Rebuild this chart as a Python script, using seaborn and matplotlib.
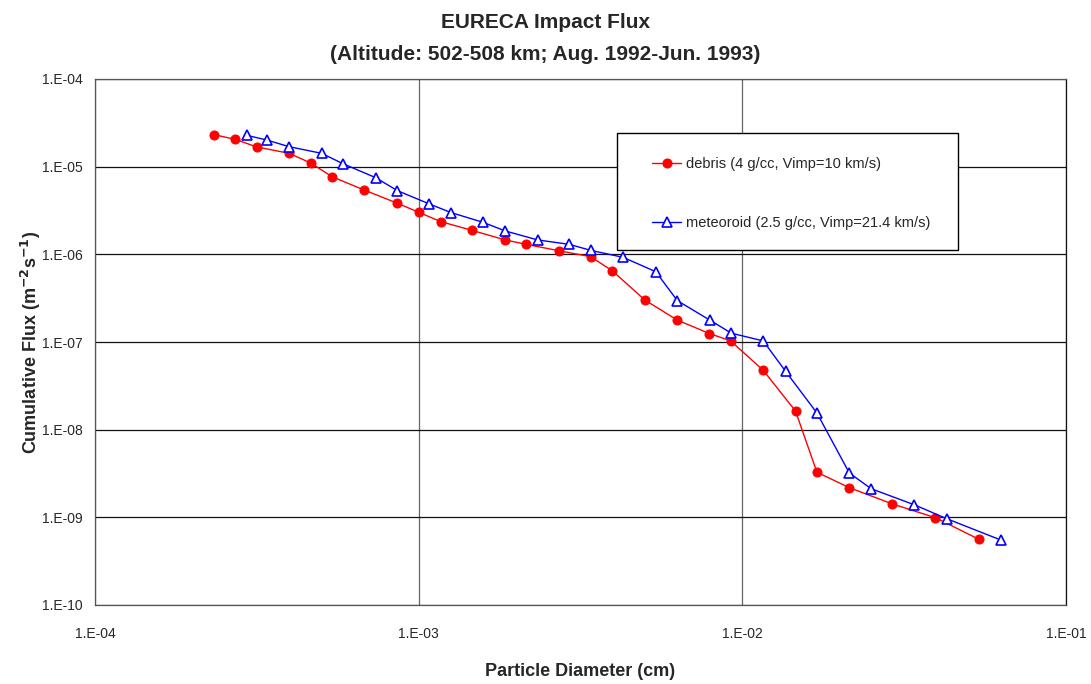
import numpy as np
import pandas as pd
import matplotlib
matplotlib.use('Agg')
import matplotlib.pyplot as plt
import matplotlib.ticker as mticker
from matplotlib.patches import Rectangle
import seaborn as sns

# Values
debris_diam = [2.33e-4, 2.71e-4, 3.16e-4, 3.98e-4, 4.64e-4, 5.40e-4, 6.78e-4, 8.56e-4,
               1.00e-3, 1.17e-3, 1.46e-3, 1.85e-3, 2.15e-3, 2.71e-3, 3.40e-3, 3.97e-3,
               5.00e-3, 6.29e-3, 7.91e-3, 9.20e-3, 1.16e-2, 1.46e-2, 1.70e-2, 2.14e-2,
               2.91e-2, 3.95e-2, 5.38e-2]
debris_flux = [2.32e-5, 2.05e-5, 1.68e-5, 1.42e-5, 1.10e-5, 7.68e-6, 5.42e-6, 3.85e-6,
               3.02e-6, 2.36e-6, 1.88e-6, 1.46e-6, 1.30e-6, 1.10e-6, 9.40e-7, 6.46e-7,
               3.01e-7, 1.78e-7, 1.25e-7, 1.03e-7, 4.76e-8, 1.63e-8, 3.27e-9, 2.18e-9,
               1.42e-9, 9.90e-10, 5.62e-10]

meteor_diam = [2.94e-4, 3.40e-4, 3.98e-4, 5.01e-4, 5.84e-4, 7.37e-4, 8.60e-4, 1.08e-3,
               1.26e-3, 1.58e-3, 1.85e-3, 2.33e-3, 2.92e-3, 3.40e-3, 4.28e-3, 5.40e-3,
               6.30e-3, 7.93e-3, 9.25e-3, 1.16e-2, 1.36e-2, 1.70e-2, 2.14e-2, 2.50e-2,
               3.40e-2, 4.28e-2, 6.29e-2]
meteor_flux = [2.28e-5, 2.01e-5, 1.69e-5, 1.42e-5, 1.08e-5, 7.48e-6, 5.32e-6, 3.75e-6,
               2.99e-6, 2.32e-6, 1.85e-6, 1.46e-6, 1.30e-6, 1.11e-6, 9.25e-7, 6.34e-7,
               2.96e-7, 1.78e-7, 1.26e-7, 1.03e-7, 4.63e-8, 1.55e-8, 3.21e-9, 2.12e-9,
               1.39e-9, 9.65e-10, 5.51e-10]

debris_label = 'debris (4 g/cc, Vimp=10 km/s)'
meteor_label = 'meteoroid (2.5 g/cc, Vimp=21.4 km/s)'

sns.set_style('white')
plt.rcParams['font.family'] = ['Liberation Sans', 'DejaVu Sans']

fig = plt.figure(figsize=(10.91, 6.84), dpi=100)
ax = fig.add_axes([95 / 1091, 1 - 605 / 684, 971 / 1091, 526 / 684])

sns.lineplot(x=debris_diam, y=debris_flux, ax=ax, color='red', marker='o',
             markersize=6.5, markeredgecolor='red', linewidth=1,
             estimator=None, label=debris_label)
sns.lineplot(x=meteor_diam, y=meteor_flux, ax=ax, color='blue', marker='^',
             markersize=7, markerfacecolor='white', markeredgecolor='blue',
             markeredgewidth=1.2, linewidth=1, estimator=None, label=meteor_label)

ax.set_xscale('log')
ax.set_yscale('log')
ax.set_xlim(1e-4, 1e-1)
ax.set_ylim(1e-10, 1e-4)

fmt = mticker.FuncFormatter(lambda v, p: '1.E%+03d' % int(round(np.log10(v))))
ax.xaxis.set_major_locator(mticker.LogLocator(base=10, numticks=10))
ax.yaxis.set_major_locator(mticker.LogLocator(base=10, numticks=10))
ax.xaxis.set_minor_locator(mticker.NullLocator())
ax.yaxis.set_minor_locator(mticker.NullLocator())
ax.xaxis.set_major_formatter(fmt)
ax.yaxis.set_major_formatter(fmt)
ax.tick_params(axis='both', which='major', direction='out', length=4, width=0.8,
               color='#333333', labelsize=10)
ax.tick_params(axis='x', pad=12)
ax.tick_params(axis='y', pad=5)

ax.grid(True, axis='y', which='major', color='#111111', linewidth=0.9)
ax.grid(True, axis='x', which='major', color='#666666', linewidth=0.9)
for s in ax.spines.values():
    s.set_color('#555555')
    s.set_linewidth(0.9)
ax.spines['right'].set_color('#111111')

ax.set_xlabel('Particle Diameter (cm)', fontsize=13, fontweight='bold', labelpad=16)
ax.set_ylabel('Cumulative Flux (m$^{\\mathbf{-2}}$s$^{\\mathbf{-1}}$)', fontsize=13,
              fontweight='bold', labelpad=-1)

fig.text(0.5, 1 - 22 / 684, 'EURECA Impact Flux', ha='center', va='center',
         fontsize=15, fontweight='bold')
fig.text(0.5, 1 - 55 / 684, '(Altitude: 502-508 km; Aug. 1992-Jun. 1993)', ha='center',
         va='center', fontsize=15, fontweight='bold')

# legend box drawn separately so the entries can sit where the reference has them
ax.add_patch(Rectangle(((617 - 95) / 971, (605 - 250) / 526), (958 - 617) / 971, 117 / 526,
                       transform=ax.transAxes, facecolor='white', edgecolor='black',
                       linewidth=1, zorder=4))
leg = ax.legend(loc='upper left', bbox_to_anchor=((652 - 95) / 971, (605 - 157) / 526),
                frameon=False, fontsize=10.5, labelspacing=3.1, borderpad=0,
                handlelength=2.0, handletextpad=0.3, borderaxespad=0)
leg.set_zorder(5)

fig.savefig('out.png', dpi=100)
